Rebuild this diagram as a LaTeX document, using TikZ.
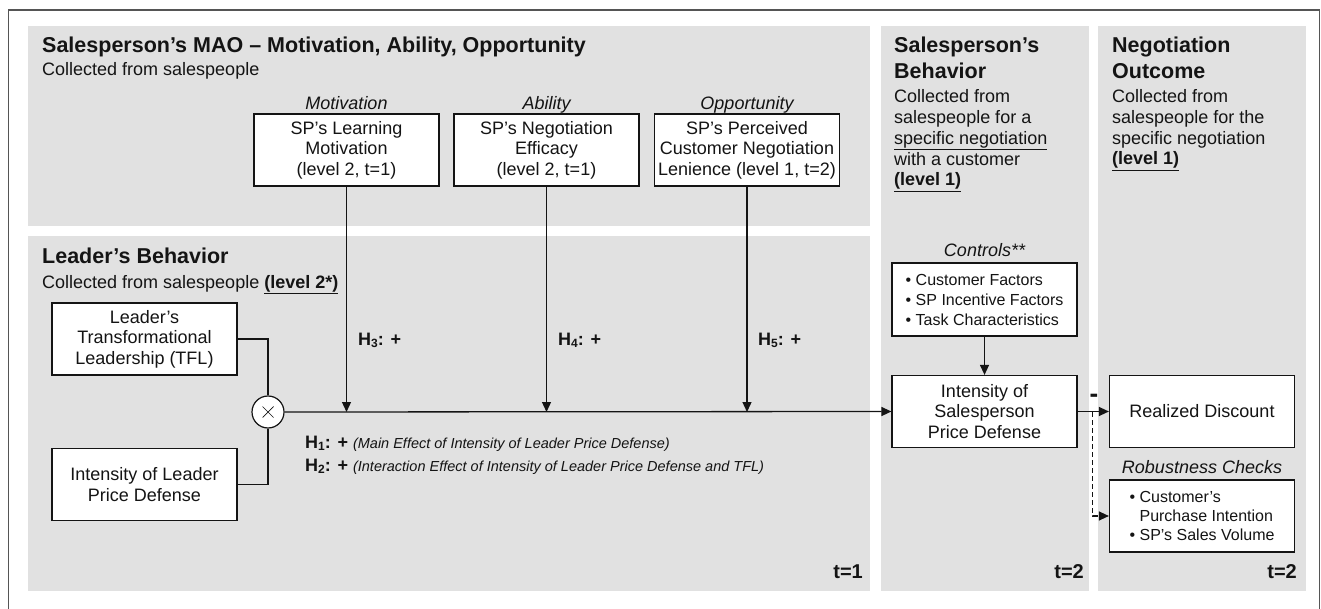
\documentclass[tikz,border=0pt]{standalone}
\usepackage{fontspec}
\setmainfont{Liberation Sans}
\usetikzlibrary{arrows.meta,calc}
\definecolor{panelgray}{RGB}{225,225,225}
\definecolor{framegray}{RGB}{85,85,85}
\definecolor{ink}{RGB}{20,20,20}
\newcommand{\hsub}[1]{\raisebox{-0.3ex}{\fontsize{12}{12}\selectfont #1}}
\newcommand{\fs}[2]{\fontsize{#1}{#2}\selectfont}
\begin{document}
\begin{tikzpicture}[x=1pt,y=-1pt,
 box/.style={draw=ink,fill=white,line width=1.2pt,minimum width=185pt,minimum height=72pt,inner sep=0pt,align=center,font=\fs{18}{20.5},text=ink},
 ttl/.style={anchor=base west,inner sep=0pt,font=\bfseries\fs{21.5}{26},align=left,text=ink},
 subt/.style={anchor=base west,inner sep=0pt,font=\fs{18}{20.8},align=left,text=ink},
 ital/.style={anchor=base,inner sep=0pt,font=\itshape\fs{18}{21},text=ink},
 hlab/.style={anchor=base west,inner sep=0pt,font=\bfseries\fs{18}{21},text=ink},
 tlab/.style={anchor=base east,inner sep=0pt,font=\bfseries\fs{20}{24},text=ink},
 conn/.style={draw=ink,line width=1.3pt},
 arr/.style={conn,-{Triangle[length=10pt,width=9pt]}},
]
\useasboundingbox (0,0) rectangle (1321,609);
\draw[framegray,line width=1.6pt] (8.5,615) -- (8.5,10) -- (1319.5,10) -- (1319.5,615);
% panels
\fill[panelgray] (28,26) rectangle (870,226);
\fill[panelgray] (28,236) rectangle (870,591);
\fill[panelgray] (881,26) rectangle (1089,591);
\fill[panelgray] (1098,26) rectangle (1306,591);
% MAO panel
\node[ttl] (maot) at (42,53) {Salesperson’s MAO – Motivation, Ability, Opportunity};
\node[subt] (maos) at (42,76) {Collected from salespeople};
\node[ital] (motl) at (346.5,110) {Motivation};
\node[ital] (abil) at (546.5,110) {Ability};
\node[ital] (oppl) at (747,110) {Opportunity};
\node[box] (mot) at (346.5,150) {SP’s Learning\\Motivation\\(level 2, t=1)};
\node[box] (abi) at (546.5,150) {SP’s Negotiation\\Efficacy\\(level 2, t=1)};
\node[box] (opp) at (747,150) {SP’s Perceived\\Customer Negotiation\\Lenience (level 1, t=2)};
% Leader panel
\node[ttl] (ldt) at (42,264) {Leader’s Behavior};
\node[subt] (lds) at (42,288) {Collected from salespeople \textbf{\underline{(level 2*)}}};
\node[box] (tfl) at (144.5,339) {Leader’s\\Transformational\\Leadership (TFL)};
\node[box] (ilp) at (144.5,484.5) {Intensity of Leader\\Price Defense};
\node[circle,draw=ink,fill=white,line width=1.2pt,minimum size=32pt,inner sep=0pt] (circ) at (268,412) {};
\draw[ink,line width=0.7pt] ($(circ.center)+(-5.5,-5.5)$) -- ($(circ.center)+(5.5,5.5)$);
\draw[ink,line width=0.7pt] ($(circ.center)+(-5.5,5.5)$) -- ($(circ.center)+(5.5,-5.5)$);
\node[hlab] (h3) at (358,345) {H\hsub{3}: +};
\node[hlab] (h4) at (558,345) {H\hsub{4}: +};
\node[hlab] (h5) at (758,345) {H\hsub{5}: +};
\node[hlab] (h1) at (305,448) {H\hsub{1}: + {\mdseries\itshape\fs{14.5}{17}(Main Effect of Intensity of Leader Price Defense)}};
\node[hlab] (h2) at (305,471) {H\hsub{2}: + {\mdseries\itshape\fs{14.5}{17}(Interaction Effect of Intensity of Leader Price Defense and TFL)}};
\node[tlab] (t1) at (863,578) {t=1};
% SP behavior panel (base anchor = last line's baseline)
\node[ttl] (spt) at (894,79) {Salesperson’s\\Behavior};
\node[subt] (sps) at (894,186) {Collected from\\salespeople for a\\\underline{specific negotiation}\\with a customer\\\textbf{\underline{(level 1)}}};
\node[ital] (ctll) at (984.5,257) {Controls**};
\node[box,minimum height=73pt,align=left,font=\fs{16}{20}] (ctl) at (984.5,299.5) {• Customer Factors\\• SP Incentive Factors\\• Task Characteristics};
\node[box] (spb) at (984.5,411.5) {Intensity of\\Salesperson\\Price Defense};
\node[tlab] (t2a) at (1084,578) {t=2};
% Outcome panel
\node[ttl] (oct) at (1112,79) {Negotiation\\Outcome};
\node[subt] (ocs) at (1112,165) {Collected from\\salespeople for the\\specific negotiation\\\textbf{\underline{(level 1)}}};
\node[box] (rd) at (1202,411.5) {Realized Discount};
\node[ital] (robl) at (1202,473) {Robustness Checks};
\node[box,align=left,font=\fs{16}{19}] (rob) at (1202,516) {• Customer’s\\\phantom{• }Purchase Intention\\• SP’s Sales Volume};
\node[tlab] (t2b) at (1297,578) {t=2};
% connectors
\draw[conn] (tfl.east) -| (circ.north);
\draw[conn] (ilp.east) -| (circ.south);
\draw[arr] (circ.east) -- (spb.west);
\draw[arr] (mot.south) -- (mot.south |- circ.center);
\draw[arr] (abi.south) -- (abi.south |- circ.center);
\draw[arr] (opp.south) -- (opp.south |- circ.center);
\draw[arr] (ctl.south) -- (ctl.south |- spb.north);
\draw[arr] (spb.east) -- (rd.west);
\node[inner sep=0pt,font=\bfseries\fs{26}{26},text=ink] (neg) at (1094,398) {-};
\coordinate (dsplit) at (1092.5,412);
\draw[arr,dash pattern=on 5pt off 3pt] (dsplit) |- (rob.west);
\end{tikzpicture}
\end{document}
